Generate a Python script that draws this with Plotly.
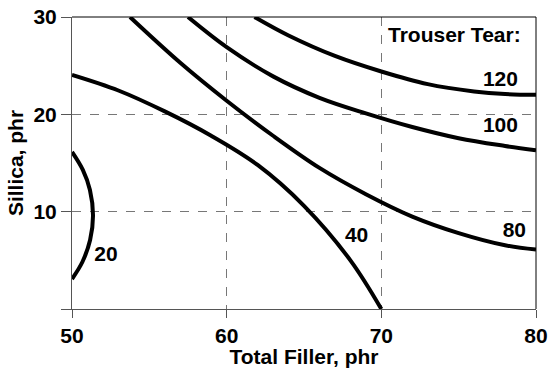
import plotly.graph_objects as go

# Trouser tear contour levels (Total Filler vs Silica, phr)
levels = ["20", "40", "80", "100", "120"]

x20 = [50, 50.70, 51.16, 51.36, 51.17, 50.67, 50]
y20 = [16.14, 14.29, 12.23, 9.61, 7.09, 4.83, 3.08]

x40 = [50, 53, 56, 59, 62, 65, 68, 70]
y40 = [24.05, 22.45, 20.3, 17.8, 14.8, 10.6, 5.0, 0]

x80 = [53.75, 57, 60, 63, 66, 69, 72, 75, 78, 80]
y80 = [30, 25.3, 21.4, 17.8, 14.5, 11.8, 9.5, 7.8, 6.55, 6.1]

x100 = [57.5, 60, 63, 66, 69, 72, 75, 78, 80]
y100 = [30, 26.9, 23.9, 21.7, 20.1, 18.7, 17.55, 16.75, 16.3]

x120 = [61.8, 64, 67, 70, 73, 76, 78, 80]
y120 = [30, 28.1, 26.0, 24.4, 23.1, 22.35, 22.08, 22.0]

# label anchor positions for each level
label_x = [52.2, 68.4, 78.6, 77.7, 77.7]
label_y = [5.45, 7.4, 7.9, 18.7, 23.4]

x_ticks = [50, 60, 70, 80]
y_ticks = [0, 10, 20, 30]
y_ticktext = ["", "10", "20", "30"]

FONT = "Liberation Sans"
FS = 21

curves = [(x20, y20), (x40, y40), (x80, y80), (x100, y100), (x120, y120)]

fig = go.Figure()
for (cx, cy), name in zip(curves, levels):
    fig.add_trace(go.Scatter(
        x=cx, y=cy, mode="lines", name=name,
        line=dict(color="black", width=4, shape="spline", smoothing=1.0),
        hoverinfo="skip", showlegend=False,
    ))

fig.add_trace(go.Scatter(
    x=label_x, y=label_y, mode="text", text=levels,
    textfont=dict(family=FONT, size=FS, color="black", weight="bold"),
    textposition="middle center", showlegend=False, hoverinfo="skip",
))

fig.add_annotation(
    x=74.76, y=28.2, xref="x", yref="y", text="<b>Trouser Tear:</b>",
    showarrow=False, font=dict(family=FONT, size=FS, color="black"),
)

# frame: top and right edges in black
fig.add_shape(type="line", xref="paper", yref="paper", x0=0, x1=1, y0=1, y1=1,
              line=dict(color="black", width=1))
fig.add_shape(type="line", xref="paper", yref="paper", x0=1, x1=1, y0=0, y1=1,
              line=dict(color="black", width=1))

axis_font = dict(family=FONT, size=FS, color="black", weight="bold")

fig.update_layout(
    width=549, height=368,
    margin=dict(l=72, r=13, t=17, b=59),
    paper_bgcolor="white", plot_bgcolor="white",
    xaxis=dict(
        range=[50, 80], tickvals=x_ticks, ticks="outside", ticklen=8,
        tickcolor="#555", tickwidth=1, showline=True, linecolor="#555", linewidth=1,
        showgrid=True, gridcolor="#777", griddash="dash", gridwidth=1,
        zeroline=False, tickfont=axis_font, automargin=False,
        title=dict(text="Total Filler, phr", font=axis_font, standoff=2),
    ),
    yaxis=dict(
        range=[0, 30], tickvals=y_ticks, ticktext=y_ticktext, ticks="outside", ticklen=10,
        tickcolor="#555", tickwidth=1, showline=True, linecolor="#555", linewidth=1,
        showgrid=True, gridcolor="#777", griddash="dash", gridwidth=1,
        zeroline=False, tickfont=axis_font, automargin=False,
        title=dict(text="Sillica, phr", font=axis_font, standoff=4),
    ),
)

fig.write_html("out.html")
